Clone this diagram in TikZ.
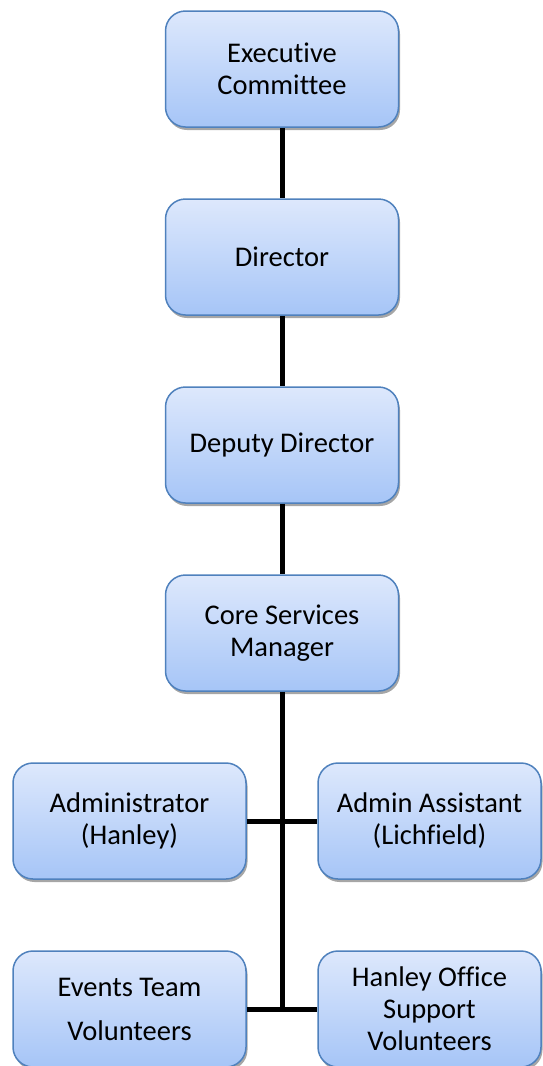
\documentclass[tikz,border=0pt]{standalone}
\usepackage{fontspec}
\setmainfont[Ligatures=NoCommon]{Carlito}
\usetikzlibrary{shadows, positioning}
\definecolor{boxtop}{HTML}{DDE8FC}
\definecolor{boxbot}{HTML}{A6C5F7}
\definecolor{boxline}{HTML}{4F81BD}
\tikzset{
  orgbox/.style={draw=boxline, line width=1.5pt, rounded corners=20pt,
    top color=boxtop, bottom color=boxbot,
    minimum width=233pt, minimum height=116pt, align=center,
    font=\fontsize{28.5}{32}\selectfont,
    drop shadow={shadow xshift=1.5pt, shadow yshift=-3pt, opacity=0.35, fill=black}},
  link/.style={line width=5pt, black}
}

\begin{document}
\begin{tikzpicture}[x=1pt,y=-1pt]
\useasboundingbox (0,0) rectangle (542,1066);
\node[orgbox] (exec) at (282,69) {Executive\\Committee};
\node[orgbox] (dir) at (282,257) {Director};
\node[orgbox] (deputy) at (282,445) {Deputy Director};
\node[orgbox] (core) at (282,633) {Core Services\\Manager};
\node[orgbox] (admin) at (129.5,821) {Administrator\\(Hanley)};
\node[orgbox, minimum width=223pt] (asst) at (429.5,821) {Admin Assistant\\(Lichfield)};
\node[orgbox] (events) at (129.5,1009) {Events Team\\[12pt]Volunteers};
\node[orgbox, minimum width=223pt] (hanley) at (429.5,1009) {Hanley Office\\Support\\Volunteers};
\coordinate (spineend) at (core |- events);
\draw[link] (exec) -- (dir);
\draw[link] (dir) -- (deputy);
\draw[link] (deputy) -- (core);
\draw[link] (core) -- ([yshift=2.5pt]spineend);
\draw[link] (admin) -- (asst);
\draw[link] (events) -- (hanley);
\end{tikzpicture}
\end{document}
